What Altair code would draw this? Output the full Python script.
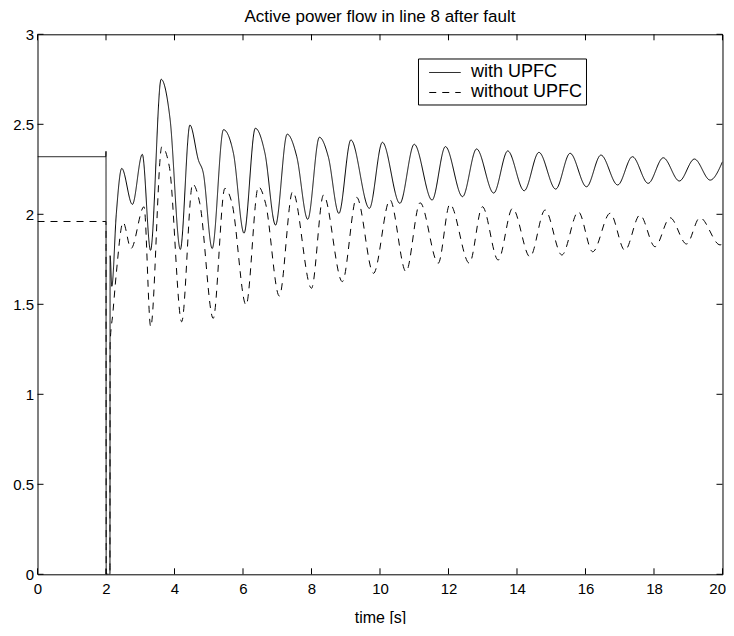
import altair as alt
import pandas as pd

# ---- data ----
series = ["with UPFC", "without UPFC"]

t_with = [0, 1.995, 2.0, 2.005, 2.115, 2.12, 2.17, 2.30, 2.46, 2.77, 3.06, 3.30, 3.61, 3.87,
          4.17, 4.45, 4.70, 4.84, 5.10, 5.43, 5.72, 6.03, 6.36, 6.64, 6.95, 7.29, 7.57,
          7.89, 8.23, 8.49, 8.80, 9.15, 9.69, 10.07, 10.58, 11.00, 11.52, 11.91, 12.41,
          12.82, 13.32, 13.73, 14.21, 14.64, 15.13, 15.55, 16.03, 16.45, 16.94, 17.37,
          17.83, 18.27, 18.74, 19.18, 19.64, 20.0]
p_with = [2.32, 2.32, 2.35, 0, 0, 1.77, 1.60, 2.00, 2.255, 2.055, 2.333, 1.80, 2.75, 2.53,
          1.805, 2.496, 2.30, 2.23, 1.81, 2.47, 2.34, 1.895, 2.478, 2.34, 1.94, 2.445, 2.32,
          1.972, 2.428, 2.32, 2.005, 2.413, 2.033, 2.40, 2.061, 2.389, 2.079, 2.376, 2.098,
          2.363, 2.118, 2.352, 2.131, 2.344, 2.14, 2.339, 2.153, 2.329, 2.163, 2.32,
          2.172, 2.314, 2.185, 2.307, 2.19, 2.292]

t_without = [0, 1.995, 2.0, 2.005, 2.115, 2.12, 2.20, 2.30, 2.50, 2.73, 3.11, 3.305, 3.63,
             3.85, 4.21, 4.53, 4.74, 5.13, 5.47, 5.68, 6.09, 6.45, 6.66, 7.06, 7.45, 8.0,
             8.35, 8.90, 9.32, 9.81, 10.29, 10.76, 11.17, 11.70, 12.04, 12.61, 12.99,
             13.45, 13.87, 14.38, 14.82, 15.31, 15.79, 16.21, 16.72, 17.15, 17.59, 18.03,
             18.47, 18.95, 19.34, 19.93, 20.0]
p_without = [1.96, 1.96, 1.96, 0, 0, 1.28, 1.45, 1.67, 1.955, 1.81, 2.042, 1.375, 2.375,
             2.264, 1.403, 2.168, 2.06, 1.422, 2.144, 2.06, 1.496, 2.153, 2.06, 1.546, 2.126,
             1.589, 2.107, 1.626, 2.094, 1.672, 2.08, 1.681, 2.064, 1.728, 2.056, 1.728,
             2.042, 1.746, 2.033, 1.764, 2.024, 1.774, 2.014, 1.792, 2.006, 1.80, 1.996,
             1.82, 1.981, 1.835, 1.981, 1.83, 1.835]

x_ticks = [0, 2, 4, 6, 8, 10, 12, 14, 16, 18, 20]
y_ticks = [0, 0.5, 1, 1.5, 2, 2.5, 3]

# ---- layout ----
W, H = 685, 540
X_DOM, Y_DOM = [0, 20], [0, 3]
TICK_PX = 6
FONT = "Liberation Sans"

rows = []
for name, ts, ps in [(series[0], t_with, p_with), (series[1], t_without, p_without)]:
    for i, (t, p) in enumerate(zip(ts, ps)):
        rows.append({"series": name, "t": t, "p": p, "order": i})
df = pd.DataFrame(rows)

x_scale = alt.Scale(domain=X_DOM, nice=False, zero=False)
y_scale = alt.Scale(domain=Y_DOM, nice=False, zero=False)

last_x = f"datum.value == {X_DOM[1]}"
x_axis = alt.Axis(values=x_ticks, title="time [s]", domain=False, ticks=False, tickSize=0,
                  grid=False, labelPadding=7, labelFontSize=15, labelFont=FONT,
                  labelColor="black", titleFont=FONT, titleFontSize=16,
                  titleFontWeight="normal", titleColor="black", titlePadding=13,
                  labelFlush=False, format="~g",
                  labelAlign={"condition": {"test": last_x, "value": "right"},
                              "value": "center"},
                  labelOffset={"condition": {"test": last_x, "value": 3}, "value": 0})
y_axis = alt.Axis(values=y_ticks, title=None, domain=False, ticks=False, tickSize=0,
                  grid=False, labelPadding=4, labelFontSize=15, labelFont=FONT,
                  labelColor="black", labelFlush=False, format="~g")

lines = alt.Chart(df).mark_line(interpolate="monotone", strokeWidth=1, color="black",
                                clip=True).encode(
    x=alt.X("t:Q", scale=x_scale, axis=x_axis),
    y=alt.Y("p:Q", scale=y_scale, axis=y_axis),
    strokeDash=alt.StrokeDash(
        "series:N",
        scale=alt.Scale(domain=series, range=[[1, 0], [7, 6]]),
        legend=alt.Legend(title=None, orient="none", legendX=380.5, legendY=24.2,
                          direction="vertical", symbolType="M-1.5,0H1.5", symbolSize=441,
                          symbolStrokeWidth=1, symbolStrokeColor="black",
                          symbolFillColor="transparent", symbolOffset=13,
                          labelFontSize=18, labelFont=FONT, labelColor="black",
                          labelOffset=15, strokeColor="black", fillColor="white",
                          padding=3, rowPadding=0, labelLimit=300),
    ),
    order="order:Q",
)

xdx = (X_DOM[1] - X_DOM[0]) * TICK_PX / W
ydy = (Y_DOM[1] - Y_DOM[0]) * TICK_PX / H
xt = pd.DataFrame({"t": x_ticks})
yt = pd.DataFrame({"p": y_ticks})

tick_bottom = alt.Chart(xt).mark_rule(color="black", strokeWidth=1).encode(
    x=alt.X("t:Q", scale=x_scale),
    y=alt.datum(Y_DOM[0]), y2=alt.datum(Y_DOM[0] + ydy))
tick_top = alt.Chart(xt).mark_rule(color="black", strokeWidth=1).encode(
    x=alt.X("t:Q", scale=x_scale),
    y=alt.datum(Y_DOM[1]), y2=alt.datum(Y_DOM[1] - ydy))
tick_left = alt.Chart(yt).mark_rule(color="black", strokeWidth=1).encode(
    y=alt.Y("p:Q", scale=y_scale),
    x=alt.datum(X_DOM[0]), x2=alt.datum(X_DOM[0] + xdx))
tick_right = alt.Chart(yt).mark_rule(color="black", strokeWidth=1).encode(
    y=alt.Y("p:Q", scale=y_scale),
    x=alt.datum(X_DOM[1]), x2=alt.datum(X_DOM[1] - xdx))

chart = alt.layer(lines, tick_bottom, tick_top, tick_left, tick_right).properties(
    width=W, height=H,
    title=alt.Title("Active power flow in line 8 after fault", fontSize=17, font=FONT,
                    fontWeight="normal", color="black", anchor="middle", offset=1.5),
    autosize=alt.AutoSizeParams(type="none"),
    padding={"left": 29.5, "top": 26.3, "right": 3.5, "bottom": 50},
    background="white",
).configure_view(stroke="black", strokeWidth=1)

chart.save("out.html", embed_options={"renderer": "svg", "actions": False})
